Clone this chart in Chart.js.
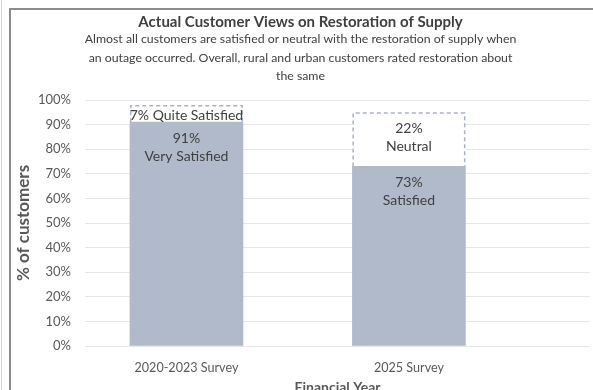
<!DOCTYPE html>
<html>
<head>
<meta charset="utf-8">
<script src="https://cdn.jsdelivr.net/npm/chart.js@4"></script>
<style>
  html, body { margin: 0; padding: 0; background: #fff; overflow: hidden; }
  body { width: 593px; height: 390px; position: relative; }
  .edge { position: absolute; left: 1px; top: 0; width: 1px; height: 390px; background: #d4d4d4; }
  .frame { position: absolute; left: 9px; top: 8px; width: 620px; height: 420px;
           border-left: 2px solid #8c8c8c; border-top: 2px solid #8c8c8c; }
  #wrap { position: absolute; left: 11px; top: 10px; width: 582px; height: 387px; }
</style>
</head>
<body>
<div class="edge"></div>
<div class="frame"></div>
<div id="wrap"><canvas id="chart"></canvas></div>
<script>
// Survey groups along the x axis
const categories = ['2020-2023 Survey', '2025 Survey'];
// Lower (solid) segment of each bar
const baseNames = ['Very Satisfied', 'Satisfied'];
const baseValues = [91, 73];
// Upper (dashed outline) segment of each bar
const topNames = ['Quite Satisfied', 'Neutral'];
const topValues = [7, 22];
// Y axis tick values (percent)
const yTicks = [0, 10, 20, 30, 40, 50, 60, 70, 80, 90, 100];

const TEXT = '#404040';
const AXIS_TEXT = '#595959';
const BAR_FILL = '#b1bacb';
const DASH_COLOR = '#a9b3c5';
const FONT = 'Lato, "Noto Sans", sans-serif';

const toPoints = vals => vals.map((v, i) => ({ x: i, y: v }));

// Dashed outline for the upper segments plus the in-bar labels
const segmentLabels = {
  id: 'segmentLabels',
  afterDatasetsDraw(chart) {
    const ctx = chart.ctx;
    ctx.save();
    chart.getDatasetMeta(1).data.forEach(bar => {
      const p = bar.getProps(['x', 'y', 'base', 'width'], true);
      const l = p.x - p.width / 2 + 0.75, r = p.x + p.width / 2 - 0.75;
      ctx.strokeStyle = DASH_COLOR;
      ctx.lineWidth = 1.5;
      ctx.setLineDash([4, 3]);
      ctx.beginPath();
      ctx.moveTo(l, p.base);
      ctx.lineTo(l, p.y + 0.75);
      ctx.lineTo(r, p.y + 0.75);
      ctx.lineTo(r, p.base);
      ctx.stroke();
    });
    ctx.setLineDash([]);

    ctx.fillStyle = TEXT;
    ctx.font = '14px ' + FONT;
    ctx.textAlign = 'center';
    ctx.textBaseline = 'middle';
    const lineGap = 18;
    const groups = [
      { meta: chart.getDatasetMeta(0), values: baseValues, names: baseNames, anchorTop: true },
      { meta: chart.getDatasetMeta(1), values: topValues, names: topNames, anchorTop: false }
    ];
    groups.forEach(g => {
      g.meta.data.forEach((bar, i) => {
        const p = bar.getProps(['x', 'y', 'base'], true);
        const h = p.base - p.y;
        const pct = g.values[i] + '%';
        if (h < lineGap * 2) {
          ctx.fillText(pct + ' ' + g.names[i], p.x, (p.y + p.base) / 2 + 2);
        } else if (g.anchorTop) {
          ctx.fillText(pct, p.x, p.y + 16);
          ctx.fillText(g.names[i], p.x, p.y + 16 + lineGap);
        } else {
          const mid = (p.y + p.base) / 2 - 2;
          ctx.fillText(pct, p.x, mid - lineGap / 2);
          ctx.fillText(g.names[i], p.x, mid + lineGap / 2);
        }
      });
    });
    ctx.restore();
  }
};

new Chart(document.getElementById('chart'), {
  type: 'bar',
  data: {
    datasets: [
      {
        label: 'Satisfied',
        data: toPoints(baseValues),
        backgroundColor: BAR_FILL,
        borderWidth: 0,
        barThickness: 113
      },
      {
        label: 'Other',
        data: toPoints(topValues),
        backgroundColor: '#ffffff',
        borderWidth: 0,
        barThickness: 113
      }
    ]
  },
  options: {
    responsive: true,
    maintainAspectRatio: false,
    animation: false,
    events: [],
    layout: { padding: { left: 0, right: 3, top: 0, bottom: 0 } },
    plugins: {
      legend: { display: false },
      tooltip: { enabled: false },
      title: {
        display: true,
        text: 'Actual Customer Views on Restoration of Supply',
        color: TEXT,
        font: { family: FONT, size: 15, weight: 'bold', lineHeight: 1.0 },
        padding: { top: 5, bottom: 0 }
      },
      subtitle: {
        display: true,
        text: [
          'Almost all customers are satisfied or neutral with the restoration of supply when',
          'an outage occurred. Overall, rural and urban customers rated restoration about',
          'the same'
        ],
        color: TEXT,
        font: { family: FONT, size: 12.3, lineHeight: '18.5px' },
        padding: { top: 0, bottom: 14.5 }
      }
    },
    scales: {
      x: {
        type: 'linear',
        stacked: true,
        offset: false,
        bounds: 'data',
        min: -0.456,
        max: 1.814,
        grid: { display: false, drawTicks: false, offset: false },
        border: { display: false },
        afterBuildTicks: scale => { scale.ticks = categories.map((c, i) => ({ value: i })); },
        afterFit: scale => { scale.height = 51; },
        ticks: {
          autoSkip: false,
          maxRotation: 0,
          padding: 14,
          color: AXIS_TEXT,
          font: { family: FONT, size: 12.6 },
          callback: v => categories[v]
        },
        title: {
          display: true,
          text: 'Financial Year',
          color: AXIS_TEXT,
          font: { family: FONT, size: 14, weight: 'bold', lineHeight: 1.2 },
          padding: { top: 0, bottom: 1 }
        }
      },
      y: {
        stacked: true,
        min: 0,
        max: 100,
        afterBuildTicks: scale => { scale.ticks = yTicks.map(v => ({ value: v })); },
        afterFit: scale => { scale.width = 74; },
        grid: { color: '#e6e6e6', lineWidth: 1, drawTicks: false },
        border: { display: false },
        ticks: {
          padding: 14,
          color: AXIS_TEXT,
          font: { family: FONT, size: 13 },
          callback: v => v + '%'
        },
        title: {
          display: true,
          text: '% of customers',
          color: AXIS_TEXT,
          font: { family: FONT, size: 17, weight: 'bold', lineHeight: 1.2 },
          padding: { top: 2, bottom: 0 }
        }
      }
    }
  },
  plugins: [segmentLabels]
});
</script>
</body>
</html>
